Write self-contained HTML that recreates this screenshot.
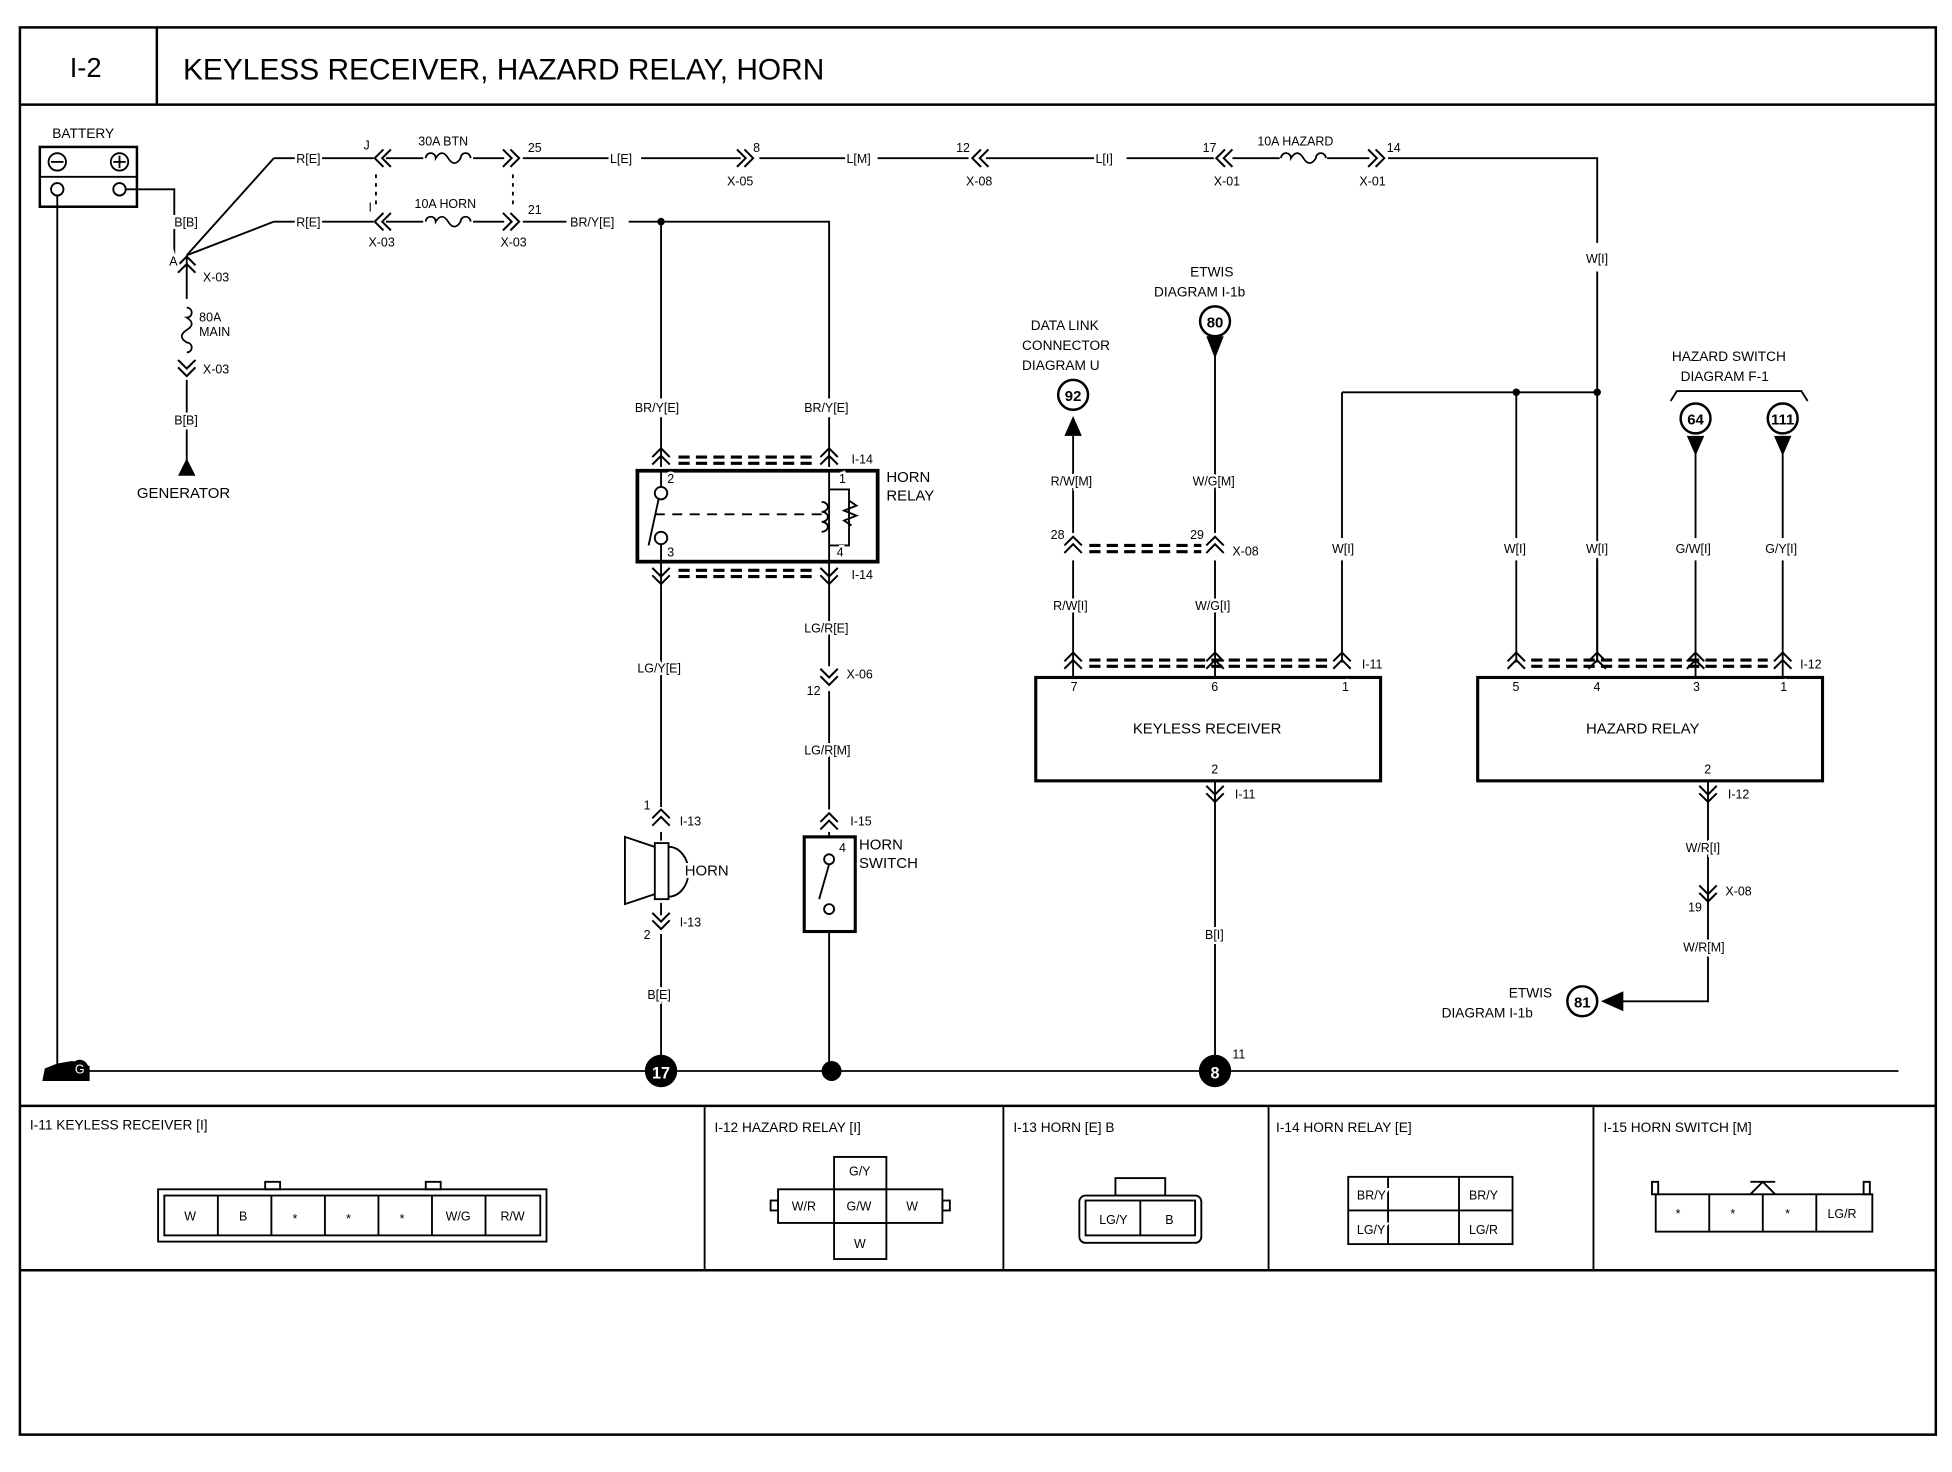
<!DOCTYPE html>
<html><head><meta charset="utf-8"><style>
html,body{margin:0;padding:0;background:#fff;}
svg{display:block;}
text{font-family:"Liberation Sans",sans-serif;fill:#000;}
.s{font-size:10px;}
.s text{stroke:#fff;stroke-width:4px;paint-order:stroke;}
.m{font-size:12px;}
</style></head><body>
<svg width="1952" height="1472" viewBox="0 0 1568 1182" preserveAspectRatio="none" xmlns="http://www.w3.org/2000/svg">
<defs>
<path id="cu" d="M-7,5 L0,-2 L7,5 M-7,11 L0,4 L7,11" fill="none" stroke="#000" stroke-width="1.6"/>
<path id="cd" d="M-7,-5 L0,2 L7,-5 M-7,-11 L0,-4 L7,-11" fill="none" stroke="#000" stroke-width="1.6"/>
<path id="cr" d="M-5,-7 L2,0 L-5,7 M-11,-7 L-4,0 L-11,7" fill="none" stroke="#000" stroke-width="1.6"/>
<path id="cl" d="M5,-7 L-2,0 L5,7 M11,-7 L4,0 L11,7" fill="none" stroke="#000" stroke-width="1.6"/>
<path id="fuse" d="M-18,0 a4,4 0 1,1 8,0 q5,-8 10,0 q5,8 10,0 a4,4 0 1,1 8,0" fill="none" stroke="#000" stroke-width="1.4"/>
</defs>
<g fill="none" stroke="#000" stroke-width="1.5">
<rect x="16" y="22" width="1539" height="1130" stroke-width="2"/>
<line x1="16" y1="84" x2="1555" y2="84" stroke-width="2"/>
<line x1="126" y1="22" x2="126" y2="84" stroke-width="2"/>
<line x1="16" y1="888" x2="1555" y2="888" stroke-width="2"/>
<line x1="16" y1="1020" x2="1555" y2="1020" stroke-width="2"/>
<line x1="566" y1="888" x2="566" y2="1020"/>
<line x1="806" y1="888" x2="806" y2="1020"/>
<line x1="1019" y1="888" x2="1019" y2="1020"/>
<line x1="1280" y1="888" x2="1280" y2="1020"/>
<line x1="40" y1="860" x2="1525" y2="860"/>
<rect x="32" y="118" width="78" height="48" stroke-width="2"/>
<line x1="32" y1="142" x2="110" y2="142"/>
<circle cx="46" cy="130" r="7"/><line x1="41" y1="130" x2="51" y2="130"/>
<circle cx="96" cy="130" r="7"/><line x1="91" y1="130" x2="101" y2="130"/><line x1="96" y1="125" x2="96" y2="135"/>
<circle cx="46" cy="152" r="5"/><circle cx="96" cy="152" r="5"/>
<line x1="46" y1="157" x2="46" y2="858"/>
<polyline points="101,152 140,152 140,205"/>
<line x1="150" y1="205" x2="220" y2="127"/><line x1="150" y1="205" x2="220" y2="178"/>
<line x1="220" y1="127" x2="300" y2="127"/><line x1="220" y1="178" x2="300" y2="178"/>
<line x1="150" y1="205" x2="150" y2="240"/>
<line x1="150" y1="305" x2="150" y2="372"/>
<line x1="310" y1="127" x2="340" y2="127"/><line x1="380" y1="127" x2="405" y2="127"/>
<line x1="420" y1="127" x2="490" y2="127"/><line x1="515" y1="127" x2="595" y2="127"/>
<line x1="610" y1="127" x2="680" y2="127"/><line x1="705" y1="127" x2="778" y2="127"/>
<line x1="792" y1="127" x2="880" y2="127"/><line x1="905" y1="127" x2="975" y2="127"/>
<line x1="990" y1="127" x2="1028" y2="127"/><line x1="1066" y1="127" x2="1100" y2="127"/>
<polyline points="1115,127 1283,127 1283,195"/><polyline points="1283,218 1283,532"/>
<line x1="1078" y1="315" x2="1283" y2="315"/><line x1="1078" y1="315" x2="1078" y2="432"/><line x1="1078" y1="450" x2="1078" y2="532"/>
<line x1="1218" y1="315" x2="1218" y2="432"/><line x1="1218" y1="450" x2="1218" y2="532"/>
<line x1="1283" y1="450" x2="1283" y2="532"/>
<line x1="310" y1="178" x2="340" y2="178"/><line x1="380" y1="178" x2="405" y2="178"/>
<line x1="420" y1="178" x2="455" y2="178"/><polyline points="505,178 666,178 666,320"/>
<line x1="531" y1="178" x2="531" y2="320"/>
<line x1="302" y1="140" x2="302" y2="165" stroke-dasharray="3,4"/><line x1="412" y1="140" x2="412" y2="165" stroke-dasharray="3,4"/>
<line x1="531" y1="335" x2="531" y2="375"/><line x1="666" y1="335" x2="666" y2="375"/>
<rect x="512" y="378" width="193" height="73" stroke-width="3"/>
<line x1="531" y1="378" x2="531" y2="391"/><circle cx="531" cy="396" r="5"/>
<circle cx="531" cy="432" r="5"/><line x1="531" y1="437" x2="531" y2="451"/>
<line x1="529" y1="401" x2="521" y2="438"/>
<line x1="526" y1="413" x2="660" y2="413" stroke-dasharray="8,6"/>
<line x1="666" y1="378" x2="666" y2="451"/>
<polyline points="666,393 682,393 682,438 666,438"/>
<path d="M660,403 a5,4 0 1,1 0,8 a5,4 0 1,1 0,8 a5,4 0 1,1 0,8"/>
<path d="M682,402 l6,4 -10,4 10,4 -10,4 6,4"/>
<line x1="531" y1="451" x2="531" y2="648"/>
<line x1="666" y1="451" x2="666" y2="535"/><line x1="666" y1="555" x2="666" y2="650"/>
<line x1="531" y1="668" x2="531" y2="675"/><line x1="531" y1="725" x2="531" y2="735"/>
<line x1="531" y1="750" x2="531" y2="850"/>
<line x1="666" y1="668" x2="666" y2="672"/><line x1="666" y1="748" x2="666" y2="858"/>
<g stroke-dasharray="9,5" stroke-width="2.5">
<line x1="545" y1="367" x2="655" y2="367"/><line x1="545" y1="372" x2="655" y2="372"/>
<line x1="545" y1="458" x2="655" y2="458"/><line x1="545" y1="463" x2="655" y2="463"/>
<line x1="875" y1="438" x2="965" y2="438"/><line x1="875" y1="443" x2="965" y2="443"/>
<line x1="875" y1="530" x2="1068" y2="530"/><line x1="875" y1="535" x2="1068" y2="535"/>
<line x1="1230" y1="530" x2="1420" y2="530"/><line x1="1230" y1="535" x2="1420" y2="535"/>
</g>
<rect x="526" y="677" width="11" height="45"/>
<path d="M526,680 L502,672 L502,726 L526,718"/>
<path d="M537,680 a16,20 0 0,1 0,40"/>
<rect x="646" y="672" width="41" height="76" stroke-width="2.5"/>
<circle cx="666" cy="690" r="4"/><circle cx="666" cy="730" r="4"/>
<line x1="666" y1="694" x2="658" y2="722"/>
<rect x="832" y="544" width="277" height="83" stroke-width="2.5"/>
<line x1="862" y1="350" x2="862" y2="428"/><line x1="862" y1="450" x2="862" y2="544"/>
<line x1="976" y1="285" x2="976" y2="428"/><line x1="976" y1="450" x2="976" y2="544"/>
<line x1="976" y1="627" x2="976" y2="852"/>
<rect x="1187" y="544" width="277" height="83" stroke-width="2.5"/>
<line x1="1362" y1="364" x2="1362" y2="432"/><line x1="1362" y1="450" x2="1362" y2="544"/>
<line x1="1432" y1="364" x2="1432" y2="432"/><line x1="1432" y1="450" x2="1432" y2="544"/>
<polyline points="1372,627 1372,804 1302,804"/>
<polyline points="1342,322 1347,314 1447,314 1452,322"/>
<rect x="127" y="955" width="312" height="42"/><rect x="132" y="960" width="302" height="32"/>
<line x1="175" y1="960" x2="175" y2="992"/><line x1="218" y1="960" x2="218" y2="992"/><line x1="261" y1="960" x2="261" y2="992"/><line x1="304" y1="960" x2="304" y2="992"/><line x1="347" y1="960" x2="347" y2="992"/><line x1="390" y1="960" x2="390" y2="992"/>
<rect x="213" y="949" width="12" height="6"/><rect x="342" y="949" width="12" height="6"/>
<rect x="625" y="955" width="132" height="27"/><rect x="670" y="929" width="42" height="82"/>
<line x1="670" y1="955" x2="712" y2="955"/><line x1="670" y1="982" x2="712" y2="982"/>
<rect x="619" y="964" width="6" height="8"/><rect x="757" y="964" width="6" height="8"/>
<rect x="867" y="960" width="98" height="38" rx="5"/><rect x="872" y="964" width="88" height="28"/><line x1="916" y1="964" x2="916" y2="992"/>
<rect x="896" y="946" width="40" height="14"/>
<rect x="1083" y="945" width="132" height="54"/><line x1="1083" y1="972" x2="1215" y2="972"/><line x1="1115" y1="945" x2="1115" y2="999"/><line x1="1172" y1="945" x2="1172" y2="999"/>
<rect x="1330" y="959" width="174" height="30"/><line x1="1373" y1="959" x2="1373" y2="989"/><line x1="1416" y1="959" x2="1416" y2="989"/><line x1="1459" y1="959" x2="1459" y2="989"/>
<path d="M1406,959 L1416,949 L1426,959 M1406,949 L1426,949"/>
<rect x="1327" y="949" width="5" height="10"/><rect x="1497" y="949" width="5" height="10"/>
</g>
<use href="#fuse" x="150" y="265" transform="rotate(90 150 265)"/>
<use href="#fuse" x="360" y="127"/>
<use href="#fuse" x="360" y="178"/>
<use href="#fuse" x="1047" y="127"/>
<use href="#cl" x="303" y="127"/><use href="#cr" x="415" y="127"/><use href="#cr" x="603" y="127"/>
<use href="#cl" x="783" y="127"/><use href="#cl" x="979" y="127"/><use href="#cr" x="1110" y="127"/>
<use href="#cl" x="303" y="178"/><use href="#cr" x="415" y="178"/>
<use href="#cu" x="150" y="208"/><use href="#cd" x="150" y="300"/>
<use href="#cu" x="531" y="362"/><use href="#cu" x="666" y="362"/>
<use href="#cd" x="531" y="467"/><use href="#cd" x="666" y="467"/>
<use href="#cd" x="666" y="548"/><use href="#cu" x="531" y="652"/><use href="#cu" x="666" y="655"/><use href="#cd" x="531" y="744"/>
<use href="#cu" x="862" y="433"/><use href="#cu" x="976" y="433"/>
<use href="#cu" x="862" y="526"/><use href="#cu" x="976" y="526"/><use href="#cu" x="1078" y="526"/>
<use href="#cu" x="1218" y="526"/><use href="#cu" x="1283" y="526"/><use href="#cu" x="1362" y="526"/><use href="#cu" x="1432" y="526"/>
<use href="#cd" x="976" y="642"/><use href="#cd" x="1372" y="642"/><use href="#cd" x="1372" y="722"/>
<g fill="#000">
<polygon points="143,382 150,368 157,382"/>
<polygon points="855,350 862,334 869,350"/>
<polygon points="969,270 976,288 983,270"/>
<polygon points="1355,350 1362,366 1369,350"/>
<polygon points="1425,350 1432,366 1439,350"/>
<polygon points="1286,804 1304,796 1304,812"/>
<circle cx="531" cy="178" r="3"/><circle cx="1218" cy="315" r="3"/><circle cx="1283" cy="315" r="3"/>
<circle cx="531" cy="860" r="13"/><circle cx="668" cy="860" r="8"/><circle cx="976" cy="860" r="13"/>
<path d="M34,868 L36,858 L46,854 L58,852 L72,856 L72,868 Z"/>
<circle cx="64" cy="858" r="7"/>
</g>
<text x="531" y="866" text-anchor="middle" style="font-size:13px;fill:#fff;font-weight:bold">17</text>
<text x="976" y="866" text-anchor="middle" style="font-size:13px;fill:#fff;font-weight:bold">8</text>
<text x="64" y="862" text-anchor="middle" style="font-size:10px;fill:#fff">G</text>
<g fill="none" stroke="#000" stroke-width="2">
<circle cx="862" cy="317" r="12"/><circle cx="976" cy="258" r="12"/><circle cx="1362" cy="336" r="12"/><circle cx="1432" cy="336" r="12"/><circle cx="1271" cy="804" r="12"/>
</g>
<g class="m" text-anchor="middle" font-weight="bold">
<text x="862" y="322">92</text><text x="976" y="263">80</text><text x="1362" y="341">64</text><text x="1432" y="341">111</text><text x="1271" y="809">81</text>
</g>
<text x="56" y="62" style="font-size:22px">I-2</text>
<text x="147" y="64" style="font-size:24px">KEYLESS RECEIVER, HAZARD RELAY, HORN</text>
<g class="s">
<text x="42" y="111" style="font-size:11px">BATTERY</text>
<text x="110" y="400" style="font-size:12px">GENERATOR</text>
<text x="140" y="182">B[B]</text><text x="136" y="213">A</text><text x="163" y="226">X-03</text>
<text x="160" y="258">80A</text><text x="160" y="270">MAIN</text><text x="163" y="300">X-03</text><text x="140" y="341">B[B]</text>
<text x="238" y="131">R[E]</text><text x="238" y="182">R[E]</text>
<text x="292" y="120">J</text><text x="336" y="117">30A BTN</text><text x="424" y="122">25</text><text x="490" y="131">L[E]</text>
<text x="605" y="122">8</text><text x="584" y="149">X-05</text><text x="680" y="131">L[M]</text><text x="768" y="122">12</text><text x="776" y="149">X-08</text>
<text x="880" y="131">L[I]</text><text x="966" y="122">17</text><text x="1010" y="117">10A HAZARD</text><text x="1114" y="122">14</text><text x="975" y="149">X-01</text><text x="1092" y="149">X-01</text>
<text x="296" y="170">I</text><text x="333" y="167">10A HORN</text><text x="424" y="172">21</text><text x="458" y="182">BR/Y[E]</text>
<text x="296" y="198">X-03</text><text x="402" y="198">X-03</text>
<text x="1274" y="211">W[I]</text>
<text x="510" y="331">BR/Y[E]</text><text x="646" y="331">BR/Y[E]</text>
<text x="684" y="372">I-14</text><text x="684" y="465">I-14</text>
<text x="536" y="388">2</text><text x="674" y="388">1</text><text x="536" y="447">3</text><text x="672" y="447">4</text>
<text x="712" y="387" style="font-size:12px">HORN</text><text x="712" y="402" style="font-size:12px">RELAY</text>
<text x="512" y="540">LG/Y[E]</text><text x="646" y="508">LG/R[E]</text>
<text x="680" y="545">X-06</text><text x="648" y="558">12</text><text x="646" y="606">LG/R[M]</text>
<text x="517" y="650">1</text><text x="546" y="663">I-13</text><text x="683" y="663">I-15</text><text x="674" y="684">4</text>
<text x="690" y="682" style="font-size:12px">HORN</text><text x="690" y="697" style="font-size:12px">SWITCH</text>
<text x="550" y="703" style="font-size:12px">HORN</text>
<text x="517" y="754">2</text><text x="546" y="744">I-13</text><text x="520" y="802">B[E]</text>
<text x="828" y="265" style="font-size:11px">DATA LINK</text><text x="821" y="281" style="font-size:11px">CONNECTOR</text><text x="821" y="297" style="font-size:11px">DIAGRAM U</text>
<text x="956" y="222" style="font-size:11px">ETWIS</text><text x="927" y="238" style="font-size:11px">DIAGRAM I-1b</text>
<text x="1343" y="290" style="font-size:11px">HAZARD SWITCH</text><text x="1350" y="306" style="font-size:11px">DIAGRAM F-1</text>
<text x="844" y="390">R/W[M]</text><text x="958" y="390">W/G[M]</text>
<text x="844" y="433">28</text><text x="956" y="433">29</text><text x="990" y="446">X-08</text>
<text x="1070" y="444">W[I]</text><text x="1208" y="444">W[I]</text><text x="1274" y="444">W[I]</text><text x="1346" y="444">G/W[I]</text><text x="1418" y="444">G/Y[I]</text>
<text x="846" y="490">R/W[I]</text><text x="960" y="490">W/G[I]</text>
<text x="1094" y="537">I-11</text><text x="1446" y="537">I-12</text>
<text x="860" y="555">7</text><text x="973" y="555">6</text><text x="1078" y="555">1</text>
<text x="1215" y="555">5</text><text x="1280" y="555">4</text><text x="1360" y="555">3</text><text x="1430" y="555">1</text>
<text x="910" y="589" style="font-size:12px">KEYLESS RECEIVER</text><text x="1274" y="589" style="font-size:12px">HAZARD RELAY</text>
<text x="973" y="621">2</text><text x="1369" y="621">2</text>
<text x="992" y="641">I-11</text><text x="1388" y="641">I-12</text>
<text x="1354" y="684">W/R[I]</text><text x="1386" y="719">X-08</text><text x="1356" y="732">19</text><text x="1352" y="764">W/R[M]</text>
<text x="968" y="754">B[I]</text><text x="990" y="850">11</text>
<text x="1212" y="801" style="font-size:11px">ETWIS</text><text x="1158" y="817" style="font-size:11px">DIAGRAM I-1b</text>
<text x="24" y="907" style="font-size:11px">I-11 KEYLESS RECEIVER [I]</text>
<text x="574" y="909" style="font-size:11px">I-12 HAZARD RELAY [I]</text>
<text x="814" y="909" style="font-size:11px">I-13 HORN [E] B</text>
<text x="1025" y="909" style="font-size:11px">I-14 HORN RELAY [E]</text>
<text x="1288" y="909" style="font-size:11px">I-15 HORN SWITCH [M]</text>
<text x="148" y="980">W</text><text x="192" y="980">B</text><text x="235" y="982">*</text><text x="278" y="982">*</text><text x="321" y="982">*</text><text x="358" y="980">W/G</text><text x="402" y="980">R/W</text>
<text x="682" y="944">G/Y</text><text x="636" y="972">W/R</text><text x="680" y="972">G/W</text><text x="728" y="972">W</text><text x="686" y="1002">W</text>
<text x="883" y="983">LG/Y</text><text x="936" y="983">B</text>
<text x="1090" y="963">BR/Y</text><text x="1180" y="963">BR/Y</text><text x="1090" y="991">LG/Y</text><text x="1180" y="991">LG/R</text>
<text x="1346" y="978">*</text><text x="1390" y="978">*</text><text x="1434" y="978">*</text><text x="1468" y="978">LG/R</text>
</g>
</svg>
</body></html>
